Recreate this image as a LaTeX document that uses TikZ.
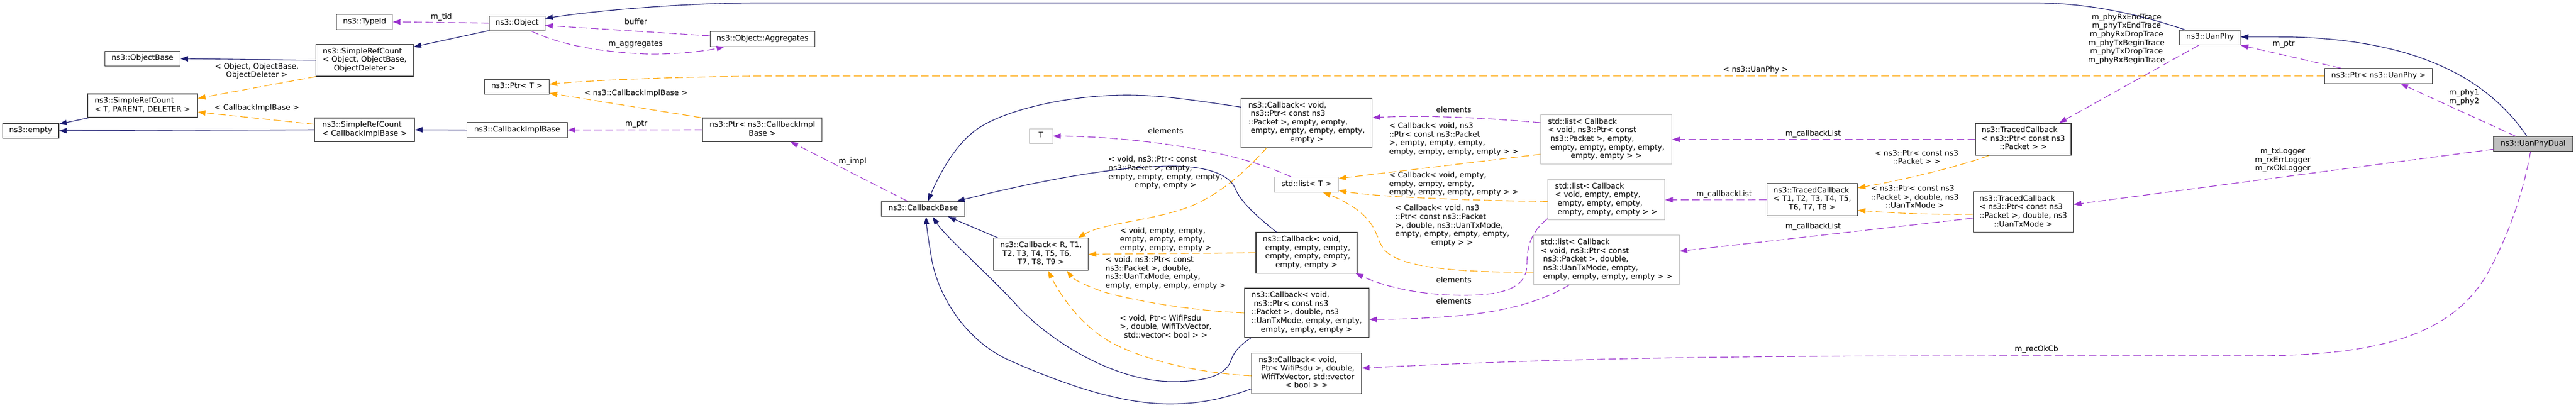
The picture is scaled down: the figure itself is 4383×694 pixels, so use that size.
\documentclass[tikz,border=0pt]{standalone}
\usepackage{fontspec}
\setmainfont{DejaVu Sans}
\usetikzlibrary{arrows.meta}
\definecolor{navyc}{HTML}{191970}
\definecolor{purplec}{HTML}{9A32CD}
\definecolor{orangec}{HTML}{FFA500}
\definecolor{greyb}{HTML}{BFBFBF}
\definecolor{bordc}{HTML}{404040}
\newcommand{\nf}{\fontsize{12.9}{14.6}\selectfont}
\newcommand{\ml}[2]{\begin{tabular}{@{}l@{}}#1\\\multicolumn{1}{@{}c@{}}{#2}\end{tabular}}
\newcommand{\cl}[1]{\begin{tabular}{@{}c@{}}#1\end{tabular}}
\tikzset{
 nd/.style={draw=bordc, line width=1.1pt, fill=white, inner sep=0pt, font=\nf},
 gnd/.style={nd, draw=greyb},
 lbl/.style={inner sep=0pt, font=\nf},
 conn/.style={line width=1.1pt, -{Triangle[length=13pt,width=9pt]}},
 inhl/.style={conn, draw=navyc},
 usel/.style={conn, draw=purplec, dash pattern=on 13pt off 6pt},
 tpll/.style={conn, draw=orangec, dash pattern=on 13pt off 6pt},
}
\begin{document}
\begin{tikzpicture}[x=1pt,y=-1pt]
\fill[white] (0,0) rectangle (4383,694);
\useasboundingbox (0,0) rectangle (4383,694);

% ---------- nodes ----------
\node[nd, minimum width=95.4pt, minimum height=25.5pt] (empty) at (52.3,222.7) {\cl{ns3::empty}};
\node[nd, minimum width=127.8pt, minimum height=25.5pt] (ObjectBase) at (242.5,100) {\cl{ns3::ObjectBase}};
\node[nd, minimum width=187pt, minimum height=40pt] (SRCT) at (242.5,180) {\ml{ns3::SimpleRefCount}{< T, PARENT, DELETER >}};
\node[nd, minimum width=95pt, minimum height=25.5pt] (TypeId) at (620.4,37.3) {\cl{ns3::TypeId}};
\node[nd, minimum width=94.6pt, minimum height=25.5pt] (Object) at (879.8,39.8) {\cl{ns3::Object}};
\node[nd, minimum width=165.3pt, minimum height=54.6pt] (SRCObj) at (620.5,102.7) {\ml{ns3::SimpleRefCount\\< Object, ObjectBase,}{ObjectDeleter >}};
\node[nd, minimum width=110pt, minimum height=25.5pt] (PtrT) at (879.6,147.8) {\cl{ns3::Ptr< T >}};
\node[nd, minimum width=169.7pt, minimum height=40pt] (SRCCIB) at (620.5,221) {\ml{ns3::SimpleRefCount}{< CallbackImplBase >}};
\node[nd, minimum width=171pt, minimum height=25.5pt] (CIB) at (879.8,221.3) {\cl{ns3::CallbackImplBase}};
\node[nd, minimum width=178.2pt, minimum height=25.5pt] (Aggr) at (1297.3,66.5) {\cl{ns3::Object::Aggregates}};
\node[nd, minimum width=203pt, minimum height=40pt] (PtrCIB) at (1297.1,221) {\ml{ns3::Ptr< ns3::CallbackImpl}{Base >}};
\node[nd, minimum width=142.2pt, minimum height=25.5pt] (CBase) at (1570.7,355.8) {\cl{ns3::CallbackBase}};
\node[gnd, minimum width=39.3pt, minimum height=25.5pt] (T) at (1771.4,231.8) {\cl{T}};
\node[nd, minimum width=161pt, minimum height=54.6pt] (CBR) at (1771.2,433.2) {\ml{ns3::Callback< R, T1,\\\ T2, T3, T4, T5, T6,}{T7, T8, T9 >}};
\node[nd, minimum width=223pt, minimum height=84pt] (CB1) at (2223.2,209.3) {\ml{ns3::Callback< void,\\\ ns3::Ptr< const ns3\\::Packet >, empty, empty,\\\ empty, empty, empty, empty,}{empty >}};
\node[gnd, minimum width=108pt, minimum height=25.5pt] (ListT) at (2223,314.5) {\cl{std::list< T >}};
\node[nd, minimum width=172pt, minimum height=69.2pt] (CB2) at (2223,430.6) {\ml{ns3::Callback< void,\\\ empty, empty, empty,\\\ empty, empty, empty,}{empty, empty >}};
\node[nd, minimum width=212.3pt, minimum height=84pt] (CB3) at (2223.2,533) {\ml{ns3::Callback< void,\\\ ns3::Ptr< const ns3\\::Packet >, double, ns3\\::UanTxMode, empty, empty,}{empty, empty, empty >}};
\node[nd, minimum width=187pt, minimum height=69.6pt] (CB4) at (2223.2,636) {\ml{ns3::Callback< void,\\\ Ptr< WifiPsdu >, double,\\\ WifiTxVector, std::vector}{< bool > >}};
\node[gnd, minimum width=223.3pt, minimum height=84pt] (L1) at (2733,237.5) {\ml{std::list< Callback\\< void, ns3::Ptr< const\\\ ns3::Packet >, empty,\\\ empty, empty, empty, empty,}{empty, empty > >}};
\node[gnd, minimum width=199pt, minimum height=69.2pt] (L2) at (2733.2,340.3) {\ml{std::list< Callback\\< void, empty, empty,\\\ empty, empty, empty,}{\ empty, empty, empty > >}};
\node[gnd, minimum width=247.7pt, minimum height=84pt] (L3) at (2733.5,442.9) {\ml{std::list< Callback\\< void, ns3::Ptr< const\\\ ns3::Packet >, double,\\\ ns3::UanTxMode, empty,}{\ empty, empty, empty, empty > >}};
\node[nd, minimum width=154pt, minimum height=54.6pt] (TCg) at (3083.5,340) {\ml{ns3::TracedCallback\\< T1, T2, T3, T4, T5,}{T6, T7, T8 >}};
\node[nd, minimum width=162.5pt, minimum height=54.6pt] (TC1) at (3442.7,237.3) {\ml{ns3::TracedCallback\\< ns3::Ptr< const ns3}{::Packet > >}};
\node[nd, minimum width=170.8pt, minimum height=69.2pt] (TC3) at (3442.5,361.3) {\ml{ns3::TracedCallback\\< ns3::Ptr< const ns3\\::Packet >, double, ns3}{::UanTxMode >}};
\node[nd, minimum width=103pt, minimum height=25.5pt] (UanPhy) at (3760.4,63.8) {\cl{ns3::UanPhy}};
\node[nd, minimum width=183pt, minimum height=25.5pt] (PtrUan) at (4047,129.3) {\cl{ns3::Ptr< ns3::UanPhy >}};
\node[nd, fill=greyb, minimum width=134pt, minimum height=25.5pt] (Dual) at (4310,245.2) {\cl{ns3::UanPhyDual}};

% ---------- inheritance (solid navy) ----------
\draw[inhl] (SRCObj.west) -- (ObjectBase.east);
\draw[inhl] ([xshift=3pt]SRCT.south west) -- ([yshift=-2pt]empty.north east);
\draw[inhl] (SRCCIB.west) -- (empty.east);
\draw[inhl] ([yshift=1pt]Object.south west) -- ([yshift=-5pt]SRCObj.north east);
\draw[inhl] (CIB.west) -- (SRCCIB.east);
\draw[inhl] ([xshift=9pt]UanPhy.north west) .. controls (3640,25) and (3560,6) .. (3468,5) -- (1290,5) .. controls (1150,5) and (1000,20) .. ([yshift=-5pt]Object.north east);
\draw[inhl] ([yshift=27pt]CB1.west) .. controls (2040,172) and (1980,162) .. (1918,162) .. controls (1820,162) and (1720,185) .. (1670,215) .. controls (1640,233) and (1610,270) .. ([xshift=8pt]CBase.north);
\draw[inhl] ([xshift=-51pt]CB2.north) .. controls (2140,370) and (2112,345) .. (2102,322) .. controls (2094,300) and (2060,284) .. (2000,283) .. controls (1880,282) and (1720,320) .. ([xshift=-14pt]CBase.north east);
\draw[inhl] ([xshift=8pt]CBR.north west) -- ([xshift=-29pt]CBase.south east);
\draw[inhl] ([xshift=12pt]CB3.south west) .. controls (2110,588) and (2100,598) .. (2094,615) .. controls (2085,640) and (2050,650) .. (1995,650) .. controls (1900,650) and (1790,585) .. (1730,520) .. controls (1680,465) and (1610,405) .. ([xshift=16pt]CBase.south);
\draw[inhl] ([yshift=9pt]CB4.south west) .. controls (2080,680) and (2040,688) .. (1990,688) .. controls (1900,688) and (1800,650) .. (1720,615) .. controls (1640,580) and (1595,500) .. (1585,440) .. controls (1580,410) and (1577,390) .. ([xshift=5pt]CBase.south);
\draw[inhl] ([xshift=-10.6pt]Dual.north) .. controls (4220,115) and (4080,68) .. (3900,63) -- ([yshift=1pt]UanPhy.east);

% ---------- usage (dashed purple) ----------
\draw[usel] ([yshift=0.5pt]Object.west) -- (TypeId.east);
\draw[usel] ([yshift=5.5pt]Aggr.west) -- ([yshift=-3.5pt]Object.east);
\draw[usel] ([xshift=24.5pt]Object.south) .. controls (940,70) and (1000,88) .. (1100,92) .. controls (1150,93) and (1200,87) .. ([xshift=-65pt]Aggr.south);
\draw[usel] (PtrCIB.west) -- (CIB.east);
\draw[usel] ([xshift=-27pt]CBase.north) -- ([xshift=48pt]PtrCIB.south);
\draw[usel] ([xshift=-26pt]ListT.north) .. controls (2160,285) and (2110,265) .. (2000,248) .. controls (1920,236) and (1850,232) .. (T.east);
\draw[usel] ([yshift=28.5pt]L1.west) .. controls (2520,200) and (2420,196) .. ([yshift=9pt]CB1.east);
\draw[usel] ([yshift=3pt]L2.south west) .. controls (2605,395) and (2598,420) .. (2598,450) .. controls (2598,490) and (2560,503) .. (2490,503) .. controls (2420,503) and (2360,490) .. ([xshift=-3pt]CB2.south east);
\draw[usel] ([xshift=-63.5pt]L3.south) .. controls (2630,510) and (2570,530) .. (2480,538) .. controls (2420,543) and (2370,544) .. ([yshift=-11pt]CB3.east);
\draw[usel] (TC1.west) -- (L1.east);
\draw[usel] (TCg.west) -- (L2.east);
\draw[usel] ([yshift=-10.4pt]TC3.west) -- ([yshift=15pt]L3.east);
\draw[usel] ([xshift=-19.4pt]UanPhy.south) -- ([xshift=61pt]TC1.north);
\draw[usel] ([xshift=-64.4pt]PtrUan.north) -- (UanPhy.south east);
\draw[usel] ([xshift=-30pt]Dual.north) -- ([xshift=37.5pt]PtrUan.south);
\draw[usel] ([yshift=-9pt]Dual.west) -- ([yshift=13pt]TC3.east);
\draw[usel] ([xshift=-4.5pt]Dual.south) .. controls (4295,320) and (4270,400) .. (4230,470) .. controls (4170,570) and (4050,604) .. (3850,606) -- (3500,606) .. controls (3000,606) and (2700,608) .. ([yshift=9pt]CB4.east);

% ---------- template instances (dashed orange) ----------
\draw[tpll] (SRCObj.south west) -- ([yshift=-8pt]SRCT.north east);
\draw[tpll] ([yshift=9.3pt]SRCCIB.west) -- ([yshift=-11pt]SRCT.east);
\draw[tpll] (PtrUan.west) -- (1300,129.5) .. controls (1150,131) and (1020,136) .. ([yshift=4.5pt]PtrT.east);
\draw[tpll] ([xshift=-2pt]PtrCIB.north west) -- ([yshift=2.4pt]PtrT.south east);
\draw[tpll] ([xshift=-68pt]CB1.south) .. controls (2125,285) and (2090,320) .. (2040,345) .. controls (1980,375) and (1880,378) .. ([xshift=63pt]CBR.north);
\draw[tpll] (CB2.west) -- (CBR.east);
\draw[tpll] (CB3.west) .. controls (2040,530) and (1940,515) .. (1880,498) .. controls (1850,488) and (1825,475) .. ([xshift=44pt]CBR.south);
\draw[tpll] ([yshift=-4pt]CB4.west) .. controls (2060,637) and (1960,620) .. (1890,583) .. controls (1840,555) and (1805,505) .. ([xshift=12pt]CBR.south);
\draw[tpll] ([yshift=-25.3pt]L1.west) -- ([yshift=10.5pt]ListT.east);
\draw[tpll] ([yshift=-3pt]L2.west) .. controls (2480,341) and (2340,335) .. ([yshift=-10pt]ListT.east);
\draw[tpll] ([yshift=-21pt]L3.west) .. controls (2470,464) and (2380,455) .. (2355,425) .. controls (2340,405) and (2345,385) .. (2310,358) .. controls (2285,340) and (2265,333) .. ([xshift=28pt]ListT.south);
\draw[tpll] ([xshift=22.6pt]TC1.south west) .. controls (3330,285) and (3230,308) .. ([yshift=20pt]TCg.east);
\draw[tpll] ([yshift=-3.7pt]TC3.west) .. controls (3290,366) and (3220,363) .. ([yshift=-18.3pt]TCg.east);

% ---------- edge labels ----------
\node[lbl] (lTid) at (751,30) {\cl{m\_tid}};
\node[lbl] (lBuf) at (1082,39) {\cl{buffer}};
\node[lbl] (lAggr) at (1081.5,76) {\cl{m\_aggregates}};
\node[lbl] (lSRCObj) at (437,121.5) {\ml{< Object, ObjectBase,}{ObjectDeleter >}};
\node[lbl] (lSRCCIB) at (437,184.3) {\cl{< CallbackImplBase >}};
\node[lbl] (lPtrCIB) at (1082,159.3) {\cl{< ns3::CallbackImplBase >}};
\node[lbl] (lMptrA) at (1082.6,212) {\cl{m\_ptr}};
\node[lbl] (lImpl) at (1450.7,275.7) {\cl{m\_impl}};
\node[lbl] (lElemT) at (1983.4,224.3) {\cl{elements}};
\node[lbl] (lCBa) at (1983,294.8) {\ml{< void, ns3::Ptr< const\\ns3::Packet >, empty,\\empty, empty, empty, empty,}{empty, empty >}};
\node[lbl] (lCBb) at (1983.4,408.8) {\ml{< void, empty, empty,\\empty, empty, empty,}{empty, empty, empty >}};
\node[lbl] (lCBc) at (1983.4,465.7) {\ml{< void, ns3::Ptr< const\\ns3::Packet >, double,\\ns3::UanTxMode, empty,}{empty, empty, empty, empty >}};
\node[lbl] (lCBd) at (1983.5,558) {\ml{< void, Ptr< WifiPsdu\\>, double, WifiTxVector,}{std::vector< bool > >}};
\node[lbl] (lElemA) at (2473.5,188.5) {\cl{elements}};
\node[lbl] (lLa) at (2473.5,237.5) {\ml{< Callback< void, ns3\\::Ptr< const ns3::Packet\\>, empty, empty, empty,}{empty, empty, empty, empty > >}};
\node[lbl] (lLb) at (2473.5,314.2) {\ml{< Callback< void, empty,\\empty, empty, empty,}{empty, empty, empty, empty > >}};
\node[lbl] (lLc) at (2471,385.1) {\ml{< Callback< void, ns3\\::Ptr< const ns3::Packet\\>, double, ns3::UanTxMode,\\empty, empty, empty, empty,}{empty > >}};
\node[lbl] (lElemB) at (2473.5,478.5) {\cl{elements}};
\node[lbl] (lElemC) at (2473.5,514.6) {\cl{elements}};
\node[lbl] (lCLa) at (3085,228.8) {\cl{m\_callbackList}};
\node[lbl] (lCLb) at (2933.6,331.6) {\cl{m\_callbackList}};
\node[lbl] (lCLc) at (3085,386.5) {\cl{m\_callbackList}};
\node[lbl] (lTCa) at (3261,269.5) {\ml{< ns3::Ptr< const ns3}{::Packet > >}};
\node[lbl] (lTCb) at (3258,337.2) {\ml{< ns3::Ptr< const ns3\\::Packet >, double, ns3}{::UanTxMode >}};
\node[lbl] (lUanPhy) at (2987,120) {\cl{< ns3::UanPhy >}};
\node[lbl] (lTraces) at (3618.2,66.9) {\cl{m\_phyRxEndTrace\\m\_phyTxEndTrace\\m\_phyRxDropTrace\\m\_phyTxBeginTrace\\m\_phyTxDropTrace\\m\_phyRxBeginTrace}};
\node[lbl] (lMptrB) at (3885.7,76) {\cl{m\_ptr}};
\node[lbl] (lPhy) at (4192.6,166) {\cl{m\_phy1\\m\_phy2}};
\node[lbl] (lLog) at (3884,273.1) {\cl{m\_txLogger\\m\_rxErrLogger\\m\_rxOkLogger}};
\node[lbl] (lRecOk) at (3465,596) {\cl{m\_recOkCb}};
\end{tikzpicture}
\end{document}
